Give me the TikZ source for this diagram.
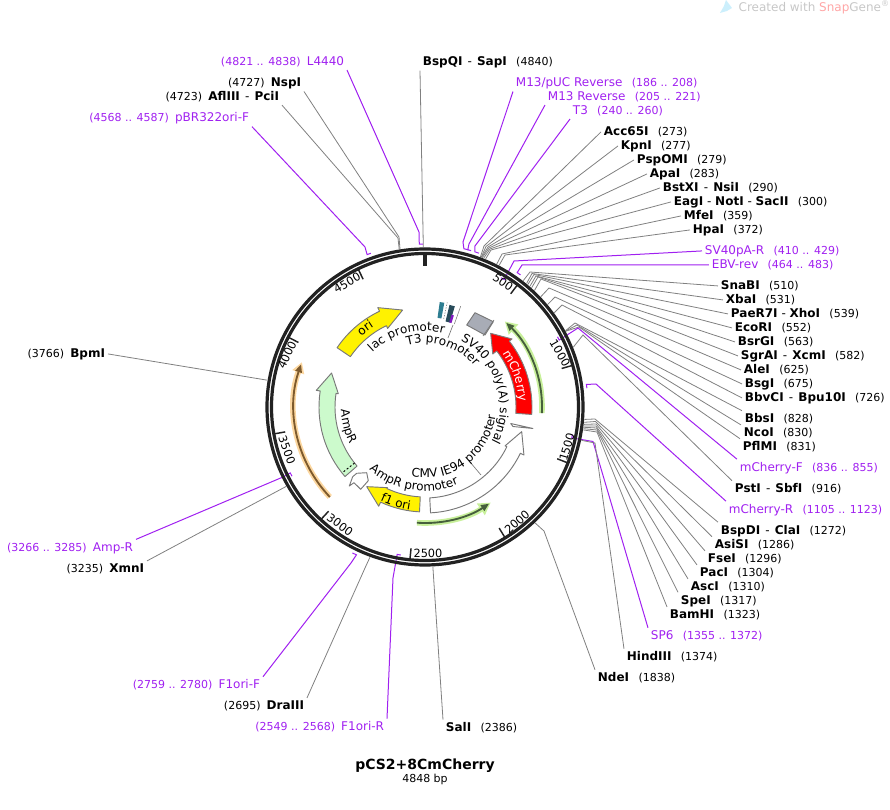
\documentclass[tikz,border=0pt]{standalone}
\usepackage{fontspec}
\setmainfont{DejaVu Sans}
\usetikzlibrary{arrows.meta,decorations.text}
\definecolor{primercol}{RGB}{160,32,240}
\definecolor{ringcol}{RGB}{34,34,34}
\definecolor{leadercol}{RGB}{128,128,128}
\definecolor{edgecol}{RGB}{120,120,120}
\definecolor{greenglow}{RGB}{200,240,155}
\definecolor{greenline}{RGB}{70,95,60}
\definecolor{orangeglow}{RGB}{252,215,160}
\definecolor{orangeline}{RGB}{125,90,45}
\definecolor{ampgreen}{RGB}{204,250,204}
\definecolor{boxgray}{RGB}{168,172,182}
\definecolor{stripeA}{RGB}{45,125,145}
\definecolor{stripeB}{RGB}{40,75,90}
\newcommand{\bploc}[1]{\hspace{7pt}{\fontsize{8.25}{10}\selectfont #1}}
\newcommand{\bplocl}[1]{{\fontsize{8.25}{10}\selectfont #1}\hspace{4.6pt}}
\newcommand{\sitesep}{\hspace{1pt} - \hspace{1pt}}
\newcommand{\arcfont}{\fontsize{9}{11}\selectfont}
\tikzset{
  sitelabel/.style={inner sep=2pt,yshift=-0.7pt,font=\fontsize{9}{11}\selectfont},
  primerlabel/.style={inner sep=2pt,yshift=-0.7pt,font=\fontsize{9}{11}\selectfont,text=primercol},
  siteline/.style={draw=leadercol,line width=0.6pt},
  primerline/.style={draw=primercol,line width=0.75pt},
  feature/.style={draw=edgecol,line width=0.7pt,line join=round},
  ticklabel/.style={inner sep=0pt,font=\fontsize{8.5}{10}\selectfont},
}
\begin{document}
\begin{tikzpicture}[x=0.75pt,y=0.75pt,declare function={bpa(\p)=90-\p/4848*360;}]
  \useasboundingbox (-425,407) rectangle (465,-403);
  % watermark
  \fill[cyan!20] (301,407) -- (307,399) -- (302,396) -- (295,394) -- (299,401) -- cycle;
  \node[inner sep=0pt,anchor=east,text=black!22,font=\fontsize{9}{11}\selectfont] (mark) at (465,400) {Created with {\color{red!35}Snap}Gene\textsuperscript{®}};
  % enzyme sites, upper left and top
  \node[sitelabel,anchor=west] (BspQI) at (-5,346) {\textbf{BspQI}\sitesep\textbf{SapI}\bploc{(4840)}};
  \coordinate (BspQIend) at ({bpa(4840)}:160);
  \draw[siteline] (BspQI.south west) -- (BspQIend);
  \node[sitelabel,anchor=east] (NspI) at (-121,325) {\bplocl{(4727)}\textbf{NspI}};
  \coordinate (NspIend) at ({bpa(4727)}:160);
  \draw[siteline] (NspI.south east) -- (-26,170) -- (NspIend);
  \node[sitelabel,anchor=east] (AflIII) at (-143,311) {\bplocl{(4723)}\textbf{AflIII}\sitesep\textbf{PciI}};
  \coordinate (AflIIIend) at ({bpa(4723)}:160);
  \draw[siteline] (AflIII.south east) -- (-27,169) -- (AflIIIend);
  % primers, upper left and top
  \node[primerlabel,anchor=east] (LfourF) at (-78,346) {\bplocl{(4821 .. 4838)}L4440};
  \coordinate (LfourA) at ({bpa(4821)}:163);
  \coordinate (LfourB) at ({bpa(4838)}:163);
  \draw[primerline] (LfourF.south east) -- (-6,175) -- (LfourA) -- (LfourB);
  \node[primerlabel,anchor=east] (pBR) at (-173,290) {\bplocl{(4568 .. 4587)}pBR322ori-F};
  \coordinate (pBRA) at ({bpa(4568)}:163);
  \coordinate (pBRB) at ({bpa(4587)}:163);
  \draw[primerline] (pBR.south east) -- (-60,160) -- (pBRA) -- (pBRB);
  \node[primerlabel,anchor=west] (pUC) at (88,325) {M13/pUC Reverse\bploc{(186 .. 208)}};
  \coordinate (pUCA) at ({bpa(186)}:163);
  \coordinate (pUCB) at ({bpa(208)}:163);
  \draw[primerline] (pUC.south west) -- (38,165) -- (pUCA) -- (pUCB);
  \node[primerlabel,anchor=west] (MRev) at (120,311) {M13 Reverse\bploc{(205 .. 221)}};
  \coordinate (MRevA) at ({bpa(205)}:163);
  \coordinate (MRevB) at ({bpa(221)}:163);
  \draw[primerline] (MRev.south west) -- (44,163) -- (MRevA) -- (MRevB);
  \node[primerlabel,anchor=west] (Tthree) at (145,297) {T3\bploc{(240 .. 260)}};
  \coordinate (TthreeA) at ({bpa(240)}:163);
  \coordinate (TthreeB) at ({bpa(260)}:163);
  \draw[primerline] (Tthree.south west) -- (50,161) -- (TthreeA) -- (TthreeB);
  % enzyme sites, upper right
  \node[sitelabel,anchor=west] (Acc) at (176,276) {\textbf{Acc65I}\bploc{(273)}};
  \coordinate (Accend) at ({bpa(273)}:160);
  \draw[siteline] (Acc.west) -- (59,161) -- (Accend);
  \node[sitelabel,anchor=west] (Kpn) at (193,262) {\textbf{KpnI}\bploc{(277)}};
  \coordinate (Kpnend) at ({bpa(277)}:160);
  \draw[siteline] (Kpn.west) -- (61,160.5) -- (Kpnend);
  \node[sitelabel,anchor=west] (Psp) at (209,248) {\textbf{PspOMI}\bploc{(279)}};
  \coordinate (Pspend) at ({bpa(279)}:160);
  \draw[siteline] (Psp.west) -- (63,160) -- (Pspend);
  \node[sitelabel,anchor=west] (Apa) at (222,234) {\textbf{ApaI}\bploc{(283)}};
  \coordinate (Apaend) at ({bpa(283)}:160);
  \draw[siteline] (Apa.west) -- (64,159) -- (Apaend);
  \node[sitelabel,anchor=west] (Bst) at (235,220) {\textbf{BstXI}\sitesep\textbf{NsiI}\bploc{(290)}};
  \coordinate (Bstend) at ({bpa(290)}:160);
  \draw[siteline] (Bst.west) -- (65,158) -- (Bstend);
  \node[sitelabel,anchor=west] (Eag) at (246,206) {\textbf{EagI} - \textbf{NotI} - \textbf{SacII}\bploc{(300)}};
  \coordinate (Eagend) at ({bpa(300)}:160);
  \draw[siteline] (Eag.west) -- (66,157) -- (Eagend);
  \node[sitelabel,anchor=west] (Mfe) at (256,192) {\textbf{MfeI}\bploc{(359)}};
  \coordinate (Mfeend) at ({bpa(359)}:160);
  \draw[siteline] (Mfe.west) -- (77,153) -- (Mfeend);
  \node[sitelabel,anchor=west] (Hpa) at (265,178) {\textbf{HpaI}\bploc{(372)}};
  \coordinate (Hpaend) at ({bpa(372)}:160);
  \draw[siteline] (Hpa.west) -- (80,152) -- (Hpaend);
  \node[primerlabel,anchor=west] (SVpA) at (277,157) {SV40pA-R\bploc{(410 .. 429)}};
  \coordinate (SVpAA) at ({bpa(429)}:150);
  \coordinate (SVpAB) at ({bpa(410)}:150);
  \draw[primerline] (SVpA.west) -- (89,146) -- (SVpAA) -- (SVpAB);
  \node[primerlabel,anchor=west] (EBV) at (284,143) {EBV-rev\bploc{(464 .. 483)}};
  \coordinate (EBVA) at ({bpa(464)}:163);
  \coordinate (EBVB) at ({bpa(483)}:163);
  \draw[primerline] (EBV.west) -- (97,142) -- (EBVA) -- (EBVB);
  \node[sitelabel,anchor=west] (Sna) at (293,122) {\textbf{SnaBI}\bploc{(510)}};
  \coordinate (Snaend) at ({bpa(510)}:160);
  \draw[siteline] (Sna.west) -- (105,135) -- (Snaend);
  \node[sitelabel,anchor=west] (Xba) at (298,108) {\textbf{XbaI}\bploc{(531)}};
  \coordinate (Xbaend) at ({bpa(531)}:160);
  \draw[siteline] (Xba.west) -- (107,133.5) -- (Xbaend);
  \node[sitelabel,anchor=west] (Pae) at (303,94) {\textbf{PaeR7I} - \textbf{XhoI}\bploc{(539)}};
  \coordinate (Paeend) at ({bpa(539)}:160);
  \draw[siteline] (Pae.west) -- (109,132.5) -- (Paeend);
  \node[sitelabel,anchor=west] (Eco) at (307,80) {\textbf{EcoRI}\bploc{(552)}};
  \coordinate (Ecoend) at ({bpa(552)}:160);
  \draw[siteline] (Eco.west) -- (111,131) -- (Ecoend);
  \node[sitelabel,anchor=west] (Bsr) at (310,66) {\textbf{BsrGI}\bploc{(563)}};
  \coordinate (Bsrend) at ({bpa(563)}:160);
  \draw[siteline] (Bsr.west) -- (113,130) -- (Bsrend);
  \node[sitelabel,anchor=west] (Sgr) at (313,52) {\textbf{SgrAI}\sitesep\textbf{XcmI}\bploc{(582)}};
  \coordinate (Sgrend) at ({bpa(582)}:160);
  \draw[siteline] (Sgr.west) -- (116,128) -- (Sgrend);
  \node[sitelabel,anchor=west] (Ale) at (316,38) {\textbf{AleI}\bploc{(625)}};
  \coordinate (Aleend) at ({bpa(625)}:160);
  \draw[siteline] (Ale.west) -- (124,119) -- (Aleend);
  \node[sitelabel,anchor=west] (Bsg) at (317,24) {\textbf{BsgI}\bploc{(675)}};
  \coordinate (Bsgend) at ({bpa(675)}:160);
  \draw[siteline] (Bsg.west) -- (130,110) -- (Bsgend);
  \node[sitelabel,anchor=west] (Bbv) at (317,10) {\textbf{BbvCI}\sitesep\textbf{Bpu10I}\bploc{(726)}};
  \coordinate (Bbvend) at ({bpa(726)}:160);
  \draw[siteline] (Bbv.west) -- (137,102) -- (Bbvend);
  \node[sitelabel,anchor=west] (Bbs) at (317,-11) {\textbf{BbsI}\bploc{(828)}};
  \coordinate (Bbsend) at ({bpa(828)}:160);
  \draw[siteline] (Bbs.north west) -- (150,84) -- (Bbsend);
  \node[sitelabel,anchor=west] (Nco) at (316,-25) {\textbf{NcoI}\bploc{(830)}};
  \coordinate (Ncoend) at ({bpa(830)}:160);
  \draw[siteline] (Nco.north west) -- (152,82) -- (Ncoend);
  \node[sitelabel,anchor=west] (Pfl) at (315,-39) {\textbf{PflMI}\bploc{(831)}};
  \coordinate (Pflend) at ({bpa(831)}:160);
  \draw[siteline] (Pfl.north west) -- (154,80) -- (Pflend);
  \node[primerlabel,anchor=west] (mChF) at (312,-60) {mCherry-F\bploc{(836 .. 855)}};
  \coordinate (mChFA) at ({bpa(855)}:150);
  \coordinate (mChFB) at ({bpa(836)}:150);
  \draw[primerline] (mChF.north west) -- (153,79) -- (mChFA) -- (mChFB);
  \node[sitelabel,anchor=west] (Pst) at (307,-81) {\textbf{PstI}\sitesep\textbf{SbfI}\bploc{(916)}};
  \coordinate (Pstend) at ({bpa(916)}:160);
  \draw[siteline] (Pst.north west) -- (158,72) -- (Pstend);
  \node[primerlabel,anchor=west] (mChR) at (301,-102) {mCherry-R\bploc{(1105 .. 1123)}};
  \coordinate (mChRA) at ({bpa(1105)}:163);
  \coordinate (mChRB) at ({bpa(1123)}:163);
  \draw[primerline] (mChR.north west) -- (171,23) -- (mChRA) -- (mChRB);
  % enzyme sites, lower right
  \node[sitelabel,anchor=west] (BspD) at (293,-123) {\textbf{BspDI}\sitesep\textbf{ClaI}\bploc{(1272)}};
  \coordinate (BspDend) at ({bpa(1272)}:160);
  \draw[siteline] (BspD.north west) -- (170,-12) -- (BspDend);
  \node[sitelabel,anchor=west] (Asi) at (287,-137) {\textbf{AsiSI}\bploc{(1286)}};
  \coordinate (Asiend) at ({bpa(1286)}:160);
  \draw[siteline] (Asi.north west) -- (170.5,-14.5) -- (Asiend);
  \node[sitelabel,anchor=west] (Fse) at (280,-151) {\textbf{FseI}\bploc{(1296)}};
  \coordinate (Fseend) at ({bpa(1296)}:160);
  \draw[siteline] (Fse.north west) -- (171,-17) -- (Fseend);
  \node[sitelabel,anchor=west] (Pac) at (272,-165) {\textbf{PacI}\bploc{(1304)}};
  \coordinate (Pacend) at ({bpa(1304)}:160);
  \draw[siteline] (Pac.north west) -- (171,-19) -- (Pacend);
  \node[sitelabel,anchor=west] (Asc) at (263,-179) {\textbf{AscI}\bploc{(1310)}};
  \coordinate (Ascend) at ({bpa(1310)}:160);
  \draw[siteline] (Asc.north west) -- (171.5,-21) -- (Ascend);
  \node[sitelabel,anchor=west] (Spe) at (253,-193) {\textbf{SpeI}\bploc{(1317)}};
  \coordinate (Speend) at ({bpa(1317)}:160);
  \draw[siteline] (Spe.north west) -- (172,-23) -- (Speend);
  \node[sitelabel,anchor=west] (Bam) at (242,-207) {\textbf{BamHI}\bploc{(1323)}};
  \coordinate (Bamend) at ({bpa(1323)}:160);
  \draw[siteline] (Bam.north west) -- (172,-25) -- (Bamend);
  \node[primerlabel,anchor=west] (SPsix) at (223,-228) {SP6\bploc{(1355 .. 1372)}};
  \coordinate (SPsixA) at ({bpa(1372)}:150);
  \coordinate (SPsixB) at ({bpa(1355)}:150);
  \draw[primerline] (SPsix.north west) -- (168,-34.5) -- (SPsixA) -- (SPsixB);
  \node[sitelabel,anchor=west] (Hind) at (199,-249) {\textbf{HindIII}\bploc{(1374)}};
  \coordinate (Hindend) at ({bpa(1374)}:160);
  \draw[siteline] (Hind.north west) -- (170,-36) -- (Hindend);
  \node[sitelabel,anchor=west] (Nde) at (170,-270) {\textbf{NdeI}\bploc{(1838)}};
  \coordinate (Ndeend) at ({bpa(1838)}:160);
  \draw[siteline] (Nde.north west) -- (119,-124) -- (Ndeend);
  \node[sitelabel,anchor=west] (Sal) at (18,-320) {\textbf{SalI}\bploc{(2386)}};
  \coordinate (Salend) at ({bpa(2386)}:160);
  \draw[siteline] (Sal.north west) -- (Salend);
  % lower left
  \node[primerlabel,anchor=east] (FoneR) at (-38,-319) {\bplocl{(2549 .. 2568)}F1ori-R};
  \coordinate (FoneRA) at ({bpa(2568)}:150);
  \coordinate (FoneRB) at ({bpa(2549)}:150);
  \draw[primerline] (FoneR.north east) -- (-32,-171) -- (FoneRA) -- (FoneRB);
  \node[sitelabel,anchor=east] (Dra) at (-118,-298) {\bplocl{(2695)}\textbf{DraIII}};
  \coordinate (Draend) at ({bpa(2695)}:160);
  \draw[siteline] (Dra.north east) -- (-60,-161) -- (Draend);
  \node[primerlabel,anchor=east] (FoneF) at (-162,-277) {\bplocl{(2759 .. 2780)}F1ori-F};
  \coordinate (FoneFA) at ({bpa(2759)}:163);
  \coordinate (FoneFB) at ({bpa(2780)}:163);
  \draw[primerline] (FoneF.north east) -- (-74,-156) -- (FoneFA) -- (FoneFB);
  \node[sitelabel,anchor=east] (Xmn) at (-278,-161) {\bplocl{(3235)}\textbf{XmnI}};
  \coordinate (Xmnend) at ({bpa(3235)}:160);
  \draw[siteline] (Xmn.north east) -- (Xmnend);
  \node[primerlabel,anchor=east] (AmpRp) at (-289,-140) {\bplocl{(3266 .. 3285)}Amp-R};
  \coordinate (AmpRpA) at ({bpa(3285)}:150);
  \coordinate (AmpRpB) at ({bpa(3266)}:150);
  \draw[primerline] (AmpRp.north east) -- (-142,-70) -- (AmpRpA) -- (AmpRpB);
  \node[sitelabel,anchor=east] (Bpm) at (-317,54) {\bplocl{(3766)}\textbf{BpmI}};
  \coordinate (Bpmend) at ({bpa(3766)}:160);
  \draw[siteline] (Bpm.east) -- (Bpmend);
  % backbone
  \draw[ringcol,line width=2.4pt] (0,0) circle[radius=158];
  \draw[ringcol,line width=2.4pt] (0,0) circle[radius=153.5];
  \draw[ringcol,line width=2.4pt] (90:155) -- (90:141);
  \foreach \tick in {500,1000,...,4500}
    \draw[ringcol,line width=1.1pt] ({bpa(\tick)}:153) -- ({bpa(\tick)}:142);
  \node[ticklabel,rotate=-35] (tickA) at (78,125) {500};
  \node[ticklabel,rotate=-60] (tickB) at (135,54) {1000};
  \node[ticklabel,rotate=74] (tickC) at (142,-40) {1500};
  \node[ticklabel,rotate=42] (tickD) at (92,-115) {2000};
  \node[ticklabel,rotate=0] (tickE) at (3,-146) {2500};
  \node[ticklabel,rotate=-37] (tickF) at (-85,-118) {3000};
  \node[ticklabel,rotate=-70] (tickG) at (-138,-43) {3500};
  \node[ticklabel,rotate=65] (tickH) at (-138,52) {4000};
  \node[ticklabel,rotate=30] (tickI) at (-78,124) {4500};
  % glow arcs
  \draw[greenglow,line width=4.2pt,-{Triangle[length=9pt,width=10pt]}] (-3:117) arc[start angle=-3,end angle=47,radius=117];
  \draw[greenline,line width=1.4pt,-{Triangle[length=6pt,width=5pt]}] (-3:117) arc[start angle=-3,end angle=46,radius=117];
  \draw[greenglow,line width=4.2pt,-{Triangle[length=9pt,width=10pt]}] (-94:116) arc[start angle=-94,end angle=-55.5,radius=116];
  \draw[greenline,line width=1.4pt,-{Triangle[length=6pt,width=5pt]}] (-94:116) arc[start angle=-94,end angle=-56.5,radius=116];
  \draw[orangeglow,line width=4.2pt,-{Triangle[length=8pt,width=9pt]}] (-136.6:131) arc[start angle=-136.6,end angle=-200,radius=131];
  \draw[orangeline,line width=1.4pt,-{Triangle[length=6pt,width=5pt]}] (-136.6:131) arc[start angle=-136.6,end angle=-199,radius=131];
  % features
  \filldraw[feature,fill=red,draw=black!50] (-4:91) arc[start angle=-4,end angle=38,radius=91] -- (38:86) -- (48.3:98.7) -- (38:110.5) -- (38:107) arc[start angle=38,end angle=-4,radius=107] -- cycle;
  \filldraw[feature,fill=yellow] (146:90) arc[start angle=146,end angle=115.4,radius=90] -- (115.4:87) -- (103:99.5) -- (115.4:110) -- (115.4:106) arc[start angle=115.4,end angle=146,radius=106] -- cycle;
  \filldraw[feature,fill=ampgreen] (221:90) arc[start angle=221,end angle=171.3,radius=90] -- (171.3:87.7) -- (160:99.4) -- (171.3:110) -- (171.3:106) arc[start angle=171.3,end angle=221,radius=106] -- cycle;
  \draw[black,line width=0.7pt,dash pattern=on 1.5pt off 1.5pt] (218.5:90) -- (218.5:106);
  \filldraw[feature,fill=white] (-87:91) arc[start angle=-87,end angle=-25.9,radius=91] -- (-25.9:89) -- (-14.3:99.8) -- (-25.9:110) -- (-25.9:106) arc[start angle=-25.9,end angle=-87,radius=106] -- cycle;
  \filldraw[feature,fill=yellow] (-93:90) arc[start angle=-93,end angle=-115,radius=90] -- (-115:89) -- (-126.2:98.7) -- (-115:109.5) -- (-115:105) arc[start angle=-115,end angle=-93,radius=105] -- cycle;
  \filldraw[feature,fill=white] (-72.3,-69.7) -- (-68.3,-66.3) -- (-58.3,-65.7) -- (-56.7,-73.7) -- (-64.3,-82.3) -- (-71,-75.7) -- (-75.7,-79) -- cycle;
  \filldraw[feature,fill=white] (85.7,-16.5) -- (108,-21.5) -- (88,-19.5) -- cycle;
  \filldraw[feature,fill=boxgray] (50,94.3) -- (68.3,85.3) -- (60,72) -- (41.7,82) -- cycle;
  \draw[edgecol,line width=0.5pt] (69,87) -- (58,71);
  % T3 and lac promoter stripes
  \fill[stripeA] (82:90) -- (82:106) -- (79.5:106) -- (79.5:90) -- cycle;
  \fill[stripeB] (76.5:88) -- (76.5:105) -- (73.5:105) -- (73.5:88) -- cycle;
  \fill[primercol!80!black] (74:88) -- (74:96) -- (72.5:96) -- (72.5:88) -- cycle;
  \draw[edgecol,line width=0.4pt,dash pattern=on 1pt off 1pt] (78:90) -- (78:107);
  \draw[edgecol,line width=0.4pt] (70.5:88) -- (70.5:107);
  \draw[edgecol,line width=0.5pt] (28,82) -- (23,69);
  \draw[edgecol,line width=0.5pt] (45,-55) -- (56,-68);
  % text on the arcs
  \path[decorate,decoration={text along path,text align=center,text={|\arcfont|lac promoter}}] (160:76) arc[start angle=160,end angle=49.4,radius=76];
  \path[decorate,decoration={text along path,text align=center,text={|\arcfont|T3 promoter}}] (135:64) arc[start angle=135,end angle=10.4,radius=64];
  \path[decorate,decoration={text along path,text align=center,text={|\arcfont|SV40 poly(A) signal}}] (100:75) arc[start angle=100,end angle=-66,radius=75];
  \path[decorate,decoration={text along path,text align=center,text={|\arcfont|CMV IE94 promoter}}] (-134:71) arc[start angle=-134,end angle=26,radius=71];
  \path[decorate,decoration={text along path,text align=center,text={|\arcfont|AmpR promoter}}] (-170:84) arc[start angle=-170,end angle=-28,radius=84];
  \path[decorate,decoration={text along path,text align=center,text={|\arcfont|AmpR}}] (-207:84) arc[start angle=-207,end angle=-124.6,radius=84];
  \path[decorate,decoration={text along path,text align=center,text={|\arcfont|ori}}] (160:95) arc[start angle=160,end angle=94.6,radius=95];
  \path[decorate,decoration={text along path,text align=center,text={|\arcfont|f1 ori}}] (-140:104) arc[start angle=-140,end angle=-74,radius=104];
  \path[decorate,decoration={text along path,text align=center,text={|\arcfont\color{white}|mCherry}}] (50:94) arc[start angle=50,end angle=-12,radius=94];
  % title
  \node[inner sep=0pt,font=\fontsize{10.5}{12}\bfseries] (title) at (0,-359) {pCS2+8CmCherry};
  \node[inner sep=0pt,font=\fontsize{8.25}{10}\selectfont] (size) at (0,-372.5) {4848 bp};
\end{tikzpicture}
\end{document}
